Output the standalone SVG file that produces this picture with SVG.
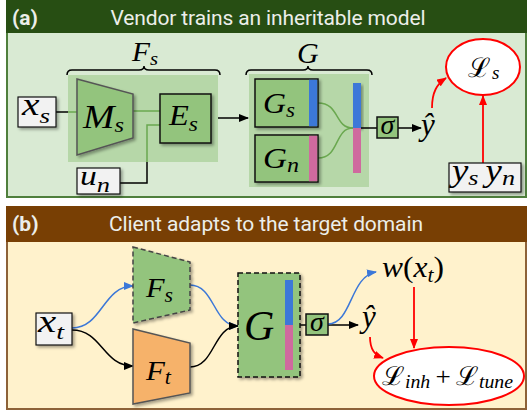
<svg xmlns="http://www.w3.org/2000/svg" width="530" height="412" viewBox="0 0 530 412">
<defs>
<style>
.hd{font-family:Roboto,"Liberation Sans",sans-serif;font-size:21px;fill:#eceeea}
.hb{font-weight:bold}
.m{font-family:"Liberation Serif","DejaVu Serif",serif;font-style:italic;fill:#000}
.cal{font-family:"DejaVu Serif","Liberation Serif",serif;font-style:normal}
.up{font-style:normal}
.box{fill:#f2f2f2;stroke:#111;stroke-width:1.2}
.gbox{fill:#93c47d;stroke:#111;stroke-width:1.5}
.shade{fill:#b6d7a8}
.blk{fill:none;stroke:#000;stroke-width:1.5}
.grn{fill:none;stroke:#6aa84f;stroke-width:1.5}
.red{fill:none;stroke:#ff0000;stroke-width:1.8}
.blu{fill:none;stroke:#3c78d8;stroke-width:1.5}
</style>
<filter id="sh" x="-20%" y="-20%" width="150%" height="150%">
<feDropShadow dx="2" dy="2" stdDeviation="1.5" flood-color="#000" flood-opacity="0.35"/>
</filter>
<marker id="ak" markerWidth="10" markerHeight="8" refX="9" refY="4" orient="auto" markerUnits="userSpaceOnUse"><path d="M0,0 L10,4 L0,8 z" fill="#000"/></marker>
<marker id="ar" markerWidth="10" markerHeight="8" refX="9" refY="4" orient="auto" markerUnits="userSpaceOnUse"><path d="M0,0 L10,4 L0,8 z" fill="#ff0000"/></marker>
<marker id="ab" markerWidth="10" markerHeight="8" refX="9" refY="4" orient="auto" markerUnits="userSpaceOnUse"><path d="M0,0 L10,4 L0,8 z" fill="#3c78d8"/></marker>
</defs>

<!-- Panel (a) -->
<g id="panel-a">
<rect x="7" y="1" width="519" height="196" fill="#d9ead3" stroke="#4f7f3c" stroke-width="2"/>
<rect x="6" y="0" width="521" height="33" fill="#274e13"/>
<text class="hd hb" x="12" y="25">(a)</text>
<text class="hd" x="268" y="25" text-anchor="middle" textLength="315">Vendor trains an inheritable model</text>
</g>

<!-- Panel (b) -->
<g id="panel-b">
<rect x="7" y="207" width="519" height="202" fill="#fff2cc" stroke="#8d6238" stroke-width="2"/>
<rect x="6" y="206" width="521" height="36" fill="#783f04"/>
<text class="hd hb" x="12" y="231">(b)</text>
<text class="hd" x="266" y="231" text-anchor="middle" textLength="314">Client adapts to the target domain</text>
</g>

<!-- group backgrounds and braces (a) -->
<g id="Fs-group">
<rect class="shade" x="68" y="75" width="150" height="87"/>
<path class="blk" d="M67,75 Q67,70 72,70 H139 Q144,70 144,66 Q144,70 149,70 H215 Q220,70 220,75"/>
<text class="m" x="132" y="61" font-size="27" textLength="26" lengthAdjust="spacingAndGlyphs">F<tspan font-size="19" dy="4">s</tspan></text>
</g>
<g id="G-group">
<rect class="shade" x="249" y="74" width="120" height="113"/>
<path class="blk" d="M246,75 Q246,70 251,70 H303 Q308,70 308,66 Q308,70 313,70 H367 Q372,70 372,75"/>
<text class="m" x="297" y="63" font-size="30">G</text>
</g>

<!-- connectors -->
<g id="connectors">
<path class="blk" d="M56,112 H68"/>
<path class="grn" d="M68,112 H77"/>
<path class="grn" d="M133,111 H160"/>
<path class="blk" d="M120,183 H147 V162"/>
<path class="grn" d="M147,162 V125 H160"/>
<path class="blk" d="M218,118 H248" marker-end="url(#ak)"/>
<path class="grn" d="M318,103 C340,103 334,128 353,128"/>
<path class="grn" d="M318,158 C340,158 334,128 353,128"/>
<path class="blk" d="M361,128 H377"/>
<path class="blk" d="M398,128 H421" marker-end="url(#ak)"/>
<path class="red" d="M432,108 C432,92 437,84 446,78" marker-end="url(#ar)"/>
<path class="red" d="M483,163 V96" marker-end="url(#ar)"/>

<path class="blu" d="M72,328 C102,328 103,286 133,286" marker-end="url(#ab)"/>
<path class="blk" d="M72,330 C102,330 103,366 133,366" marker-end="url(#ak)"/>
<path class="blu" d="M190,285 C215,285 213,326 238,326" marker-end="url(#ab)"/>
<path class="blk" d="M190,367 C215,367 213,326 238,326" marker-end="url(#ak)"/>
<path class="blk" d="M300,325 H306"/>
<path class="blk" d="M328,325 H358" marker-end="url(#ak)"/>
<path class="blu" d="M328,324 C352,324 350,276 376,272" marker-end="url(#ab)"/>
<path class="red" d="M414,287 V348" marker-end="url(#ar)"/>
<path class="red" d="M370,337 C370,350 375,355 383,358" marker-end="url(#ar)"/>
</g>

<!-- nodes (a) -->
<g id="xs">
<rect class="box" x="18" y="97" width="38" height="30" filter="url(#sh)"/>
<text class="m" x="22" y="115" font-size="32" textLength="28" lengthAdjust="spacingAndGlyphs">x<tspan font-size="22" dy="8">s</tspan></text>
</g>
<g id="Ms">
<polygon points="77,79 133,94 133,138 77,155" fill="#93c47d" stroke="#555" stroke-width="1.5" filter="url(#sh)"/>
<text class="m" x="83" y="128" font-size="34" textLength="41" lengthAdjust="spacingAndGlyphs">M<tspan font-size="22" dy="4">s</tspan></text>
</g>
<g id="Es">
<rect class="gbox" x="160" y="94" width="51" height="49" filter="url(#sh)"/>
<text class="m" x="169" y="125" font-size="29" textLength="29" lengthAdjust="spacingAndGlyphs">E<tspan font-size="21" dy="6">s</tspan></text>
</g>
<g id="un">
<rect class="box" x="77" y="168" width="43" height="26" filter="url(#sh)"/>
<text class="m" x="80" y="185" font-size="28" textLength="30" lengthAdjust="spacingAndGlyphs">u<tspan font-size="22" dy="7">n</tspan></text>
</g>
<g id="Gs">
<rect class="gbox" x="255" y="79" width="63" height="48" filter="url(#sh)"/>
<rect x="309" y="79.75" width="8.25" height="46.5" fill="#3c78d8"/>
<text class="m" x="263" y="113" font-size="29" textLength="32" lengthAdjust="spacingAndGlyphs">G<tspan font-size="21" dy="4">s</tspan></text>
</g>
<g id="Gn">
<rect class="gbox" x="255" y="135" width="63" height="47" filter="url(#sh)"/>
<rect x="309" y="135.75" width="8.25" height="45.5" fill="#cf6a9e"/>
<text class="m" x="263" y="168" font-size="29" textLength="36" lengthAdjust="spacingAndGlyphs">G<tspan font-size="21" dy="4">n</tspan></text>
</g>
<g id="bar-a">
<rect x="353" y="83" width="8" height="45" fill="#3c78d8" filter="url(#sh)"/>
<rect x="353" y="128" width="8" height="45" fill="#cf6a9e"/>
</g>
<g id="sigma-a">
<rect class="gbox" x="377" y="117" width="21" height="21" stroke-width="1.2"/>
<text class="m" x="387.5" y="134" font-size="28" text-anchor="middle">σ</text>
</g>
<g id="yhat-a">
<text class="m" x="421" y="135" font-size="31">ŷ</text>
</g>
<g id="Ls">
<ellipse cx="483" cy="67" rx="37" ry="28" fill="#fff" stroke="#ff0000" stroke-width="2"/>
<text x="468" y="77" font-size="27"><tspan class="cal">ℒ</tspan><tspan class="m" font-size="19" dy="2" dx="2">s</tspan></text>
</g>
<g id="ysyn">
<rect class="box" x="449" y="163" width="72" height="29" filter="url(#sh)"/>
<text class="m" x="452" y="181" font-size="31" textLength="63" lengthAdjust="spacingAndGlyphs">y<tspan font-size="22" dy="4">s</tspan><tspan dy="-4" dx="6">y</tspan><tspan font-size="22" dy="4">n</tspan></text>
</g>

<!-- nodes (b) -->
<g id="xt">
<rect class="box" x="36" y="313" width="36" height="32" filter="url(#sh)"/>
<text class="m" x="38" y="332" font-size="32" textLength="26" lengthAdjust="spacingAndGlyphs">x<tspan font-size="22" dy="7">t</tspan></text>
</g>
<g id="Fs-b">
<polygon points="133,247 190,262 190,310 133,323" fill="#93c47d" stroke="#444" stroke-width="1.5" stroke-dasharray="5,3" filter="url(#sh)"/>
<text class="m" x="146" y="297" font-size="28" textLength="27" lengthAdjust="spacingAndGlyphs">F<tspan font-size="20" dy="5">s</tspan></text>
</g>
<g id="Ft">
<polygon points="133,329 190,343 190,393 133,404" fill="#f6b26b" stroke="#555" stroke-width="1.5" filter="url(#sh)"/>
<text class="m" x="146" y="380" font-size="28" textLength="25" lengthAdjust="spacingAndGlyphs">F<tspan font-size="20" dy="4">t</tspan></text>
</g>
<g id="G-b">
<rect x="238" y="273" width="62" height="104" fill="#93c47d" stroke="#111" stroke-width="1.5" stroke-dasharray="5,3" filter="url(#sh)"/>
<rect x="285" y="280" width="8" height="45" fill="#3c78d8"/>
<rect x="285" y="325" width="8" height="45" fill="#cf6a9e"/>
<text class="m" x="244" y="340" font-size="42">G</text>
</g>
<g id="sigma-b">
<rect class="gbox" x="306" y="314" width="22" height="21" stroke-width="1.2"/>
<text class="m" x="317" y="331" font-size="28" text-anchor="middle">σ</text>
</g>
<g id="yhat-b">
<text class="m" x="362" y="327" font-size="31">ŷ</text>
</g>
<g id="wxt">
<text class="m" x="382" y="277" font-size="29" textLength="62" lengthAdjust="spacingAndGlyphs">w<tspan class="up">(</tspan>x<tspan font-size="20" dy="5">t</tspan><tspan class="up" dy="-5">)</tspan></text>
</g>
<g id="Lsum">
<ellipse cx="449" cy="376" rx="75" ry="29" fill="#fff" stroke="#ff0000" stroke-width="2"/>
<text x="382" y="385" font-size="26" textLength="131" lengthAdjust="spacingAndGlyphs"><tspan class="cal">ℒ</tspan><tspan class="m" font-size="19" dy="3">inh</tspan><tspan class="m up" dy="-3" dx="5">+</tspan><tspan class="cal" dx="5">ℒ</tspan><tspan class="m" font-size="19" dy="3">tune</tspan></text>
</g>
</svg>
